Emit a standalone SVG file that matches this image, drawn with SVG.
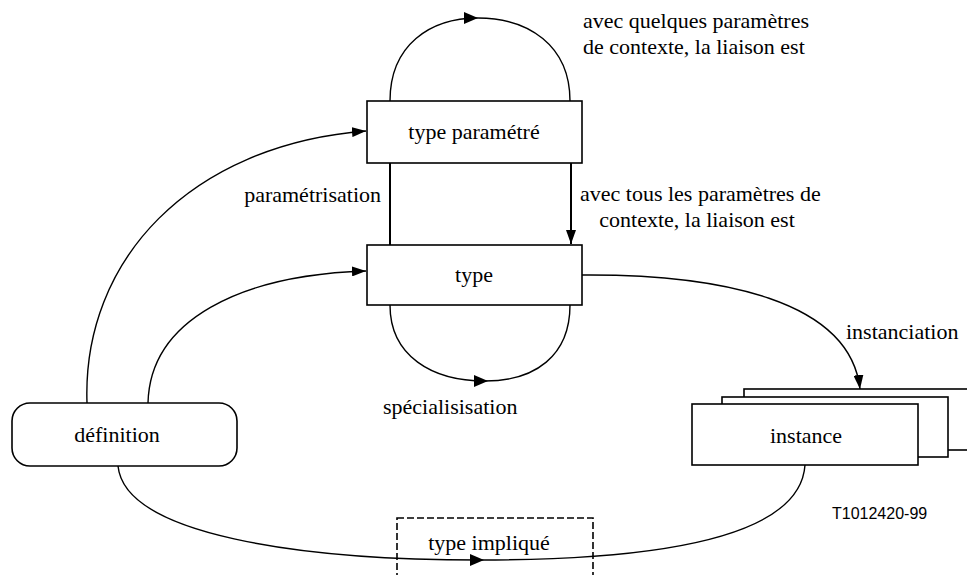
<svg xmlns="http://www.w3.org/2000/svg" width="967" height="575" viewBox="0 0 967 575">
<style>
.box{fill:#fff;stroke:#000;stroke-width:1.6}
.dash{fill:none;stroke:#000;stroke-width:1.6;stroke-dasharray:7 3}
.c{fill:none;stroke:#000;stroke-width:1.4}
.a{fill:none;stroke:#000;stroke-width:2}
text{font-family:"Liberation Serif","Times New Roman",serif;font-size:22px;fill:#000}
.m{text-anchor:middle}
.e{text-anchor:end}
.id{font-family:"Liberation Sans",Arial,sans-serif;font-size:16px}
</style>
<defs>
<marker id="ar" viewBox="0 0 14 10" refX="14" refY="5" markerWidth="14" markerHeight="10" markerUnits="userSpaceOnUse" orient="auto">
<path d="M0,0 L14,5 L0,10 Z" fill="#000"/>
</marker>
</defs>
<g id="connectors">
<path class="c" d="M390,101 C390,45 430,18 478,18 C528,18 570,45 570,101"/>
<path d="M464,12 L478,18 L464,24 Z" fill="#000"/>
<path class="c" d="M390,305 C390,356 432,381 485,381 C535,381 570,356 570,305"/>
<path d="M474,375 L488,381 L474,387 Z" fill="#000"/>
<line class="a" x1="390" y1="245" x2="390" y2="102" marker-end="url(#ar)"/>
<line class="a" x1="571" y1="163" x2="571" y2="244" marker-end="url(#ar)"/>
<path class="c" d="M87,403 C82,260 190,145 366,131" marker-end="url(#ar)"/>
<path class="c" d="M148,403 C150,320 240,275 366,271" marker-end="url(#ar)"/>
<path class="c" d="M582,275 C720,274 850,300 860,389" marker-end="url(#ar)"/>
<path class="c" d="M118,466 C125,535 300,560 480,560 C650,560 800,540 805,465"/>
<path d="M470,554 L484,560 L470,566 Z" fill="#000"/>
</g>
<g id="type-parametre">
<rect class="box" x="367" y="101" width="215" height="62"/>
<text class="m" x="474" y="139">type paramétré</text>
</g>
<g id="type">
<rect class="box" x="367" y="245" width="215" height="60"/>
<text class="m" x="474" y="282">type</text>
</g>
<g id="definition">
<rect class="box" x="12" y="403" width="225" height="63" rx="18" ry="18"/>
<text class="m" x="117" y="442">définition</text>
</g>
<g id="instance">
<rect class="box" x="744" y="389" width="240" height="61"/>
<rect class="box" x="722" y="397" width="226" height="60"/>
<rect class="box" x="692" y="404" width="226" height="61"/>
<text class="m" x="806" y="443">instance</text>
</g>
<g id="type-implique">
<rect class="dash" x="397" y="518" width="196" height="70"/>
<text class="m" x="489" y="550">type impliqué</text>
</g>
<g id="labels">
<text x="583" y="28">avec quelques paramètres</text>
<text x="583" y="54">de contexte, la liaison est</text>
<text class="e" x="381" y="202">paramétrisation</text>
<text x="580" y="201">avec tous les paramètres de</text>
<text class="m" x="697" y="227">contexte, la liaison est</text>
<text x="846" y="339">instanciation</text>
<text x="383" y="414">spécialisisation</text>
<text class="id" x="832" y="519">T1012420-99</text>
</g>
</svg>
